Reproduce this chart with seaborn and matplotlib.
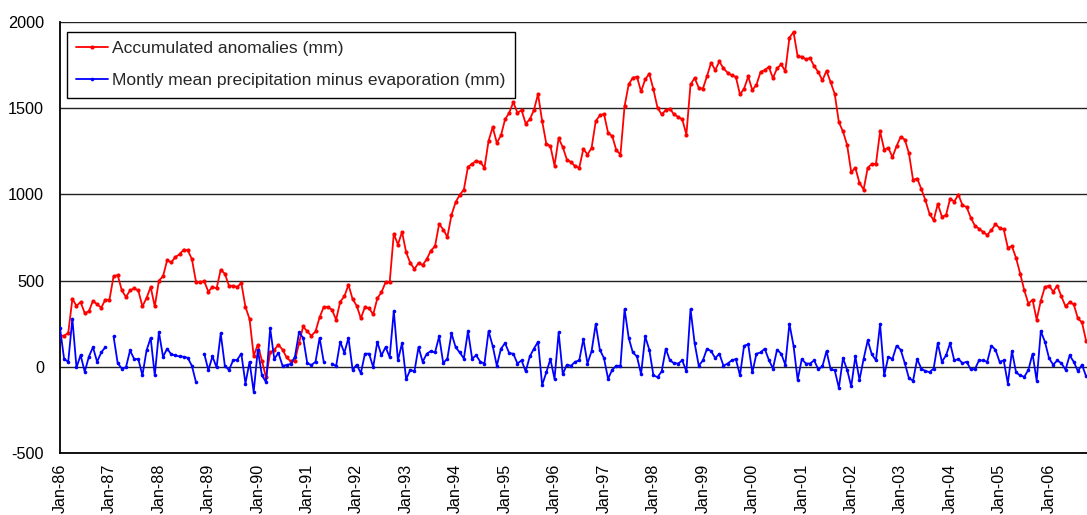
import numpy as np
import pandas as pd
import matplotlib
matplotlib.use("Agg")
import matplotlib.pyplot as plt
from matplotlib.lines import Line2D
import seaborn as sns

# ---- data (monthly, starting Jan-1986) ----
accumulated = [
    180, 180, 196, 393, 354, 375, 312, 321, 383, 362, 343, 389,
    389, 525, 532, 443, 405, 443, 455, 443, 350, 399, 463, 350,
    500, 525, 618, 606, 637, 652, 680, 676, 625, 494, 490, 496,
    436, 463, 455, 563, 540, 470, 470, 463, 486, 347, 277, 64,
    128, 35, -62, 83, 99, 128, 99, 54, 31, 35, 137, 234,
    205, 180, 205, 287, 347, 347, 331, 273, 378, 408, 476, 393,
    354, 281, 347, 339, 304, 397, 432, 490, 490, 772, 709, 782,
    664, 602, 567, 602, 590, 625, 674, 699, 829, 796, 753, 881,
    954, 997, 1028, 1160, 1177, 1195, 1187, 1154, 1311, 1390, 1299, 1342,
    1435, 1473, 1535, 1473, 1489, 1411, 1435, 1489, 1582, 1425, 1295, 1280,
    1167, 1326, 1274, 1202, 1187, 1164, 1154, 1264, 1231, 1270, 1425, 1458,
    1467, 1357, 1338, 1256, 1231, 1512, 1638, 1677, 1682, 1597, 1667, 1700,
    1609, 1502, 1464, 1489, 1497, 1464, 1450, 1435, 1347, 1638, 1675, 1619,
    1613, 1686, 1764, 1721, 1771, 1731, 1706, 1690, 1682, 1580, 1613, 1684,
    1605, 1636, 1710, 1721, 1739, 1675, 1731, 1754, 1715, 1909, 1942, 1800,
    1799, 1783, 1791, 1744, 1710, 1661, 1717, 1651, 1582, 1419, 1365, 1287,
    1129, 1154, 1067, 1028, 1154, 1177, 1177, 1365, 1260, 1270, 1216, 1280,
    1334, 1318, 1239, 1084, 1092, 1032, 966, 887, 850, 945, 871, 879,
    976, 958, 999, 937, 927, 865, 819, 801, 782, 765, 792, 827,
    805, 798, 691, 699, 631, 540, 443, 366, 389, 273, 383, 463,
    470, 436, 470, 408, 350, 375, 362, 281, 257, 150,
]

nan = np.nan
p_minus_e = [
    225, 45, 29, 279, -4, 68, -29, 58, 114, 29, 83, 114,
    nan, 176, 21, -10, -4, 95, 45, 45, -50, 95, 168, -50,
    201, 58, 105, 72, 66, 60, 58, 52, 6, -89, nan, 76,
    -19, 60, -4, 194, 6, -19, 37, 41, 76, -97, 29, -145,
    99, -50, -89, 223, 45, 81, 6, 10, 17, 58, 199, 168,
    21, 10, 29, 168, 29, nan, 19, 4, 145, 81, 168, -17,
    12, -37, 76, 76, -2, 145, 66, 114, 56, 325, 37, 137,
    -72, -17, -27, 114, 29, 76, 91, 83, 176, 21, 48, 194,
    114, 83, 48, 207, 48, 66, 29, 19, 207, 120, 6, 105,
    137, 79, 76, 19, 37, -27, 60, 105, 145, -106, -33, 45,
    -70, 199, -43, 12, 6, 29, 37, 161, 19, 91, 248, 99,
    50, -70, -17, 6, 6, 335, 168, 83, 60, -43, 176, 99,
    -50, -60, -27, 105, 37, 21, 19, 37, -27, 335, 137, 6,
    37, 105, 91, 50, 76, 6, 19, 37, 45, -50, 122, 130,
    -33, 76, 83, 105, 41, -10, 99, 76, 12, 250, 122, -76,
    45, 19, 19, 37, -14, 2, 91, -14, -21, -122, 50, -17,
    -114, 60, -76, 45, 153, 72, 37, 248, -50, 58, 45, 122,
    99, 21, -66, -81, 45, -10, -25, -31, -10, 137, 29, 66,
    137, 37, 45, 21, 29, -14, -14, 37, 37, 29, 122, 99,
    29, 37, -97, 91, -33, -50, -58, -17, 76, -81, 207, 145,
    50, 12, 37, 21, -17, 66, 29, -25, 12, -56,
]

tick_labels = ["Jan-86", "Jan-87", "Jan-88", "Jan-89", "Jan-90", "Jan-91",
               "Jan-92", "Jan-93", "Jan-94", "Jan-95", "Jan-96", "Jan-97",
               "Jan-98", "Jan-99", "Jan-00", "Jan-01", "Jan-02", "Jan-03",
               "Jan-04", "Jan-05", "Jan-06"]
y_ticks = [-500, 0, 500, 1000, 1500, 2000]

label_red = "Accumulated anomalies (mm)"
label_blue = "Montly mean precipitation minus evaporation (mm)"

# ---- build tables ----
months = np.arange(len(accumulated))
df_red = pd.DataFrame({"month": months, "value": accumulated})
blue_arr = np.array(p_minus_e, dtype=float)
seg = np.cumsum(np.isnan(blue_arr))
df_blue = pd.DataFrame({"month": months, "value": blue_arr, "seg": seg}).dropna()

sns.set_style("white")
plt.rcParams["font.family"] = ["Liberation Sans", "DejaVu Sans"]

fig = plt.figure(figsize=(10.87, 5.15), dpi=100)
ax = fig.add_axes([60 / 1087, 62 / 515, 1040 / 1087, 431 / 515])

for y in y_ticks:
    ax.axhline(y, color="#222222", lw=1.0, zorder=1)

sns.lineplot(data=df_red, x="month", y="value", ax=ax, color="#FF0000",
             lw=1.3, marker="o", markersize=3, markeredgewidth=0,
             estimator=None, zorder=3)
sns.lineplot(data=df_blue, x="month", y="value", units="seg", ax=ax,
             color="#0000FF", lw=1.3, marker="o", markersize=2.6,
             markeredgewidth=0, estimator=None, zorder=3)

ax.set_xlim(0, 1040 / 4.121)
ax.set_ylim(-500, 2000)
ax.set_xticks(np.arange(len(tick_labels)) * 12)
ax.set_xticklabels(tick_labels, rotation=90, fontsize=11.6)
ax.set_yticks(y_ticks)
ax.set_yticklabels([str(v) for v in y_ticks], fontsize=11.7)
ax.tick_params(axis="x", direction="out", length=5, width=1, pad=2.5, colors="black")
ax.tick_params(axis="y", direction="out", length=6, width=1, pad=5.5, colors="black")
ax.set_xlabel("")
ax.set_ylabel("")
ax.grid(False)

for s in ["left", "bottom"]:
    ax.spines[s].set_visible(True)
    ax.spines[s].set_color("black")
    ax.spines[s].set_linewidth(1.3)
ax.spines["top"].set_visible(False)
ax.spines["right"].set_visible(False)

handles = [
    Line2D([], [], color="#FF0000", lw=1.3, marker="o", markersize=3, markeredgewidth=0),
    Line2D([], [], color="#0000FF", lw=1.3, marker="o", markersize=2.6, markeredgewidth=0),
]
leg = ax.legend(handles, [label_red, label_blue], loc="upper left",
                bbox_to_anchor=(6.7 / 1040, (453 - 31.7) / 431),
                borderaxespad=0, fontsize=12.6, frameon=True, fancybox=False,
                framealpha=1, edgecolor="black", handlelength=1.85,
                handletextpad=0.2, labelspacing=0.97, borderpad=0.53)
leg.get_frame().set_linewidth(1.0)

fig.savefig("out.png", dpi=100)
